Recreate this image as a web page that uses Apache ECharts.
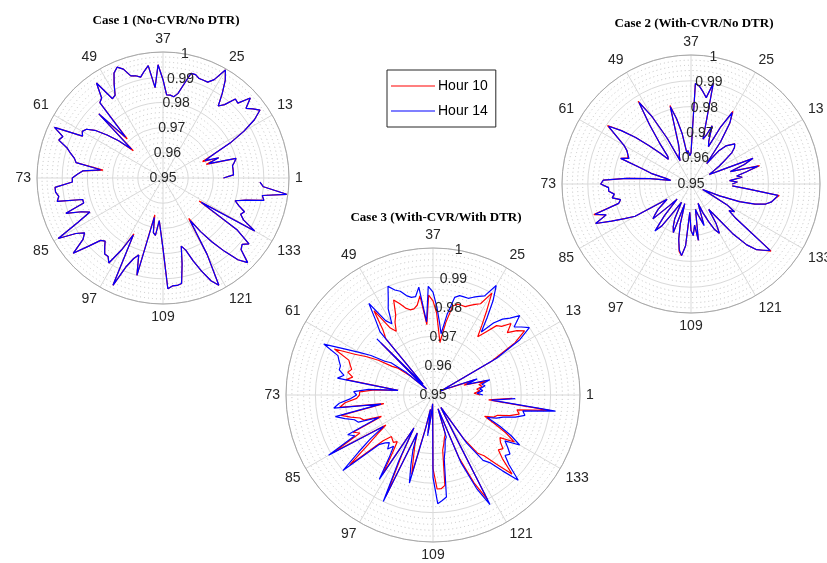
<!DOCTYPE html>
<html>
<head>
<meta charset="utf-8">
<script src="https://cdn.jsdelivr.net/npm/echarts@6/dist/echarts.min.js"></script>
<style>html,body{margin:0;padding:0;background:#fff}#c{width:827px;height:563px}</style>
</head>
<body>
<div id="c"></div>
<script>
const angleTickLabels = ['1','13','25','37','49','61','73','85','97','109','121','133'];
const radiusTickLabels = ['0.95','0.96','0.97','0.98','0.99','1'];
const seriesNames = ['Hour 10','Hour 14'];
const chartTitles = ['Case 1 (No-CVR/No DTR)','Case 2 (With-CVR/No DTR)','Case 3 (With-CVR/With DTR)'];

const case1Hour10 = [0.974,0.978,0.978,0.978,0.978,0.979,0.980,0.968,0.9735,0.967,
 0.972,0.980,0.987,0.993,0.997,0.995,0.993,0.997,0.992,0.9925,
 0.988,0.986,0.991,0.996,0.9995,0.994,0.992,0.992,0.992,0.993,
 0.993,0.988,0.984,0.9825,0.983,0.983,0.989,0.995,0.986,0.995,
 0.993,0.991,0.992,0.9925,0.996,0.9976,0.996,0.992,0.988,0.9873,
 0.996,0.990,0.989,0.971,0.986,0.966,0.973,0.978,0.983,0.986,
 0.987,0.986,0.9975,0.993,0.994,0.990,0.988,0.986,0.985,0.974,
 0.982,0.984,0.986,0.986,0.993,0.993,0.992,0.993,0.983,0.983,
 0.991,0.985,0.982,0.988,0.998,0.991,0.988,0.990,0.9965,0.990,
 0.985,0.984,0.986,0.988,0.988,0.990,0.983,0.975,0.997,0.988,
 0.984,0.982,0.990,0.965,0.972,0.973,0.967,0.967,0.978,0.994,
 0.993,0.993,0.9925,0.985,0.978,0.980,0.985,0.990,0.995,0.998,
 0.985,0.969,0.976,0.982,0.988,0.994,0.9975,0.992,0.991,0.993,
 0.986,0.967,0.992,0.986,0.984,0.985,0.982,0.980,0.984,0.991,
 0.990,0.9995,0.990,0.9885];
const case1Hour14 = [0.974,0.978,0.978,0.978,0.978,0.979,0.980,0.969,0.9735,0.968,
 0.972,0.980,0.987,0.993,0.997,0.995,0.993,0.997,0.992,0.9925,
 0.988,0.986,0.991,0.996,0.9995,0.994,0.992,0.992,0.992,0.993,
 0.993,0.988,0.984,0.9825,0.983,0.983,0.989,0.995,0.986,0.995,
 0.993,0.991,0.992,0.9925,0.996,0.9976,0.996,0.992,0.988,0.9873,
 0.996,0.990,0.989,0.972,0.986,0.967,0.973,0.978,0.983,0.986,
 0.987,0.986,0.9975,0.993,0.994,0.990,0.988,0.986,0.985,0.975,
 0.982,0.984,0.986,0.986,0.993,0.993,0.992,0.993,0.983,0.983,
 0.991,0.985,0.982,0.988,0.998,0.991,0.988,0.990,0.9965,0.990,
 0.985,0.984,0.986,0.988,0.988,0.990,0.983,0.9755,0.997,0.988,
 0.984,0.982,0.990,0.966,0.972,0.973,0.967,0.967,0.978,0.994,
 0.993,0.993,0.9925,0.985,0.978,0.980,0.985,0.990,0.995,0.998,
 0.985,0.970,0.976,0.982,0.988,0.994,0.9975,0.992,0.991,0.993,
 0.986,0.968,0.992,0.986,0.984,0.985,0.982,0.980,0.984,0.991,
 0.990,0.9995,0.990,0.9885];

const case2Hour10 = [0.966,0.968,0.965,0.970,0.968,0.972,0.9775,0.966,0.972,0.976,
 0.962,0.958,0.960,0.963,0.966,0.970,0.972,0.973,0.973,0.970,
 0.967,0.960,0.970,0.978,0.9825,0.975,0.966,0.968,0.974,0.970,
 0.968,0.990,0.984,0.986,0.988,0.989,0.962,0.961,0.963,0.962,
 0.970,0.976,0.9815,0.966,0.963,0.962,0.960,0.970,0.980,0.988,
 0.978,0.970,0.964,0.963,0.967,0.972,0.978,0.984,0.9895,0.984,
 0.980,0.978,0.977,0.9765,0.979,0.970,0.966,0.960,0.958,0.966,
 0.975,0.984,0.985,0.982,0.982,0.980,0.981,0.978,0.979,0.9895,
 0.985,0.990,0.984,0.979,0.975,0.961,0.963,0.966,0.968,0.970,
 0.962,0.958,0.966,0.9725,0.970,0.964,0.960,0.958,0.965,0.968,
 0.970,0.958,0.966,0.972,0.9765,0.978,0.974,0.961,0.968,0.970,
 0.966,0.972,0.960,0.962,0.964,0.9665,0.958,0.962,0.966,0.970,
 0.972,0.968,0.962,0.966,0.975,0.982,0.986,0.988,0.9905,0.972,
 0.968,0.970,0.966,0.958,0.955,0.962,0.970,0.976,0.980,0.982,
 0.983,0.9845,0.972,0.966];
const case2Hour14 = [0.966,0.968,0.965,0.970,0.968,0.972,0.977,0.966,0.972,0.976,
 0.962,0.958,0.960,0.963,0.966,0.970,0.972,0.973,0.973,0.970,
 0.967,0.960,0.970,0.978,0.982,0.975,0.966,0.968,0.974,0.970,
 0.968,0.990,0.984,0.986,0.988,0.989,0.962,0.961,0.963,0.962,
 0.970,0.976,0.981,0.966,0.963,0.962,0.960,0.970,0.980,0.9875,
 0.978,0.970,0.964,0.963,0.967,0.972,0.978,0.984,0.989,0.984,
 0.980,0.978,0.977,0.976,0.979,0.970,0.966,0.960,0.958,0.966,
 0.975,0.984,0.985,0.982,0.982,0.980,0.981,0.978,0.979,0.989,
 0.985,0.990,0.984,0.979,0.975,0.961,0.963,0.966,0.968,0.970,
 0.962,0.958,0.966,0.973,0.970,0.964,0.960,0.958,0.965,0.968,
 0.970,0.958,0.966,0.972,0.976,0.978,0.974,0.961,0.968,0.970,
 0.966,0.972,0.960,0.962,0.964,0.967,0.958,0.962,0.966,0.970,
 0.972,0.968,0.962,0.966,0.975,0.982,0.986,0.988,0.990,0.972,
 0.968,0.970,0.966,0.958,0.955,0.962,0.970,0.976,0.980,0.982,
 0.983,0.984,0.972,0.966];

const case3Hour10 = [0.966,0.964,0.966,0.965,0.967,0.966,0.969,0.961,0.965,0.957,
 0.955,0.953,0.973,0.983,0.988,0.986,0.983,0.986,0.983,0.982,
 0.978,0.975,0.979,0.984,0.990,0.985,0.984,0.983,0.982,0.982,
 0.982,0.981,0.975,0.968,0.972,0.978,0.982,0.984,0.974,0.984,
 0.981,0.980,0.980,0.981,0.983,0.985,0.980,0.978,0.975,0.977,
 0.985,0.978,0.975,0.955,0.975,0.953,0.960,0.965,0.967,0.972,
 0.976,0.980,0.987,0.981,0.980,0.979,0.980,0.978,0.980,0.962,
 0.970,0.975,0.975,0.976,0.980,0.982,0.967,0.982,0.979,0.976,
 0.975,0.969,0.980,0.978,0.989,0.969,0.973,0.978,0.987,0.973,
 0.970,0.970,0.971,0.970,0.974,0.982,0.963,0.973,0.988,0.964,
 0.968,0.972,0.978,0.961,0.955,0.963,0.957,0.953,0.975,0.982,
 0.982,0.981,0.969,0.967,0.965,0.964,0.955,0.973,0.983,0.990,
 0.958,0.955,0.968,0.975,0.977,0.982,0.988,0.982,0.979,0.980,
 0.978,0.977,0.982,0.978,0.973,0.969,0.972,0.973,0.977,0.980,
 0.979,0.990,0.969,0.977];
const case3Hour14 = [0.967,0.965,0.967,0.966,0.968,0.967,0.970,0.962,0.966,0.958,
 0.955,0.953,0.975,0.985,0.990,0.988,0.986,0.990,0.987,0.985,
 0.982,0.977,0.982,0.988,0.993,0.988,0.987,0.986,0.985,0.985,
 0.985,0.984,0.978,0.971,0.975,0.980,0.985,0.987,0.975,0.987,
 0.984,0.984,0.985,0.987,0.988,0.990,0.986,0.983,0.978,0.980,
 0.988,0.982,0.978,0.955,0.977,0.953,0.962,0.968,0.970,0.975,
 0.979,0.984,0.991,0.985,0.984,0.983,0.983,0.981,0.983,0.962,
 0.972,0.977,0.976,0.978,0.982,0.984,0.968,0.984,0.981,0.978,
 0.977,0.970,0.982,0.980,0.991,0.970,0.976,0.982,0.990,0.975,
 0.973,0.972,0.974,0.972,0.976,0.984,0.963,0.975,0.990,0.964,
 0.970,0.975,0.981,0.962,0.955,0.964,0.957,0.953,0.978,0.987,
 0.986,0.985,0.972,0.969,0.966,0.965,0.955,0.975,0.985,0.992,
 0.958,0.955,0.970,0.978,0.980,0.985,0.991,0.985,0.982,0.983,
 0.981,0.979,0.984,0.980,0.975,0.970,0.973,0.975,0.979,0.982,
 0.981,0.992,0.970,0.978];

const cases = [[case1Hour10, case1Hour14],[case2Hour10, case2Hour14],[case3Hour10, case3Hour14]];

const layout = [
  {center:[163,178], radius:126, title:[161,9]},
  {center:[691,184], radius:129, title:[689,12]},
  {center:[433,395], radius:147, title:[431,206]}
];
const colors = ['#ff0000','#0000ff'];
const labelColor = '#262626';
const font = '"Liberation Sans", Arial, Helvetica, sans-serif';

const option = {
  backgroundColor:'#fff',
  animation:false,
  title: chartTitles.map((t,i)=>({
    text:t, left:layout[i].title[0], top:layout[i].title[1], textAlign:'center',
    textStyle:{fontFamily:'"Liberation Serif","Times New Roman",serif', fontWeight:'bold', fontSize:13, color:'#000'}
  })),
  legend:{
    data:seriesNames.map(n=>({name:n, icon:'rect'})), orient:'vertical', left:387, top:70, width:109,
    backgroundColor:'#fff', borderColor:'#262626', borderWidth:1,
    padding:[8,8,8,4], itemGap:9, itemWidth:44, itemHeight:1,
    textStyle:{fontFamily:font, fontSize:14, color:'#000', lineHeight:16, padding:[0,0,0,-2]}
  },
  polar:[],
  angleAxis:[],
  radiusAxis:[],
  series:[]
};

layout.forEach((L,i)=>{
  option.polar.push({center:L.center, radius:L.radius});
  option.angleAxis.push({
    polarIndex:i, type:'value', min:0, max:144, interval:12, startAngle:0, clockwise:false,
    axisLine:{show:true, lineStyle:{color:'#a8a8a8', width:1}},
    axisTick:{show:false},
    axisLabel:{show:true, margin:6, color:labelColor, fontFamily:font, fontSize:14,
      formatter:(v)=> (v < 144 && angleTickLabels[Math.round(v/12)] !== undefined) ? angleTickLabels[Math.round(v/12)] : ''},
    splitLine:{show:true, lineStyle:{color:'#d9d9d9', width:1}}
  });
  option.radiusAxis.push({
    polarIndex:i, type:'value', min:0.95, max:1, interval:0.01,
    axisLine:{show:false}, axisTick:{show:false}, axisLabel:{show:false},
    splitLine:{show:true, lineStyle:{color:'#d9d9d9', width:1}},
    minorTick:{show:false, splitNumber:5},
    minorSplitLine:{show:true, lineStyle:{color:'#c4c4c4', width:1, type:[1,3]}}
  });
});
// overlay polars only for the radial tick labels, drawn along the 80 degree direction
layout.forEach((L,i)=>{
  const pi = 3+i;
  option.polar.push({center:L.center, radius:L.radius});
  option.angleAxis.push({
    polarIndex:pi, type:'value', min:0, max:360, startAngle:80, clockwise:false, show:false
  });
  option.radiusAxis.push({
    polarIndex:pi, type:'value', min:0.95, max:1, interval:0.01, z:5,
    axisLine:{show:false}, axisTick:{show:false}, splitLine:{show:false},
    axisLabel:{show:true, margin:0, align:'center', verticalAlign:'middle', color:labelColor, fontFamily:font, fontSize:14,
      formatter:(v)=> radiusTickLabels[Math.round((v-0.95)/0.01)]}
  });
});

cases.forEach((pair,i)=>{
  pair.forEach((vals,k)=>{
    option.series.push({
      type:'line', name:seriesNames[k], coordinateSystem:'polar', polarIndex:i,
      data: vals.map((v,j)=>[v, j]),
      symbol:'none', z:3+k,
      lineStyle:{color:colors[k], width:1.2},
      itemStyle:{color:colors[k]}
    });
  });
});

const chart = echarts.init(document.getElementById('c'), null, {renderer:'canvas'});
chart.setOption(option);
</script>
</body>
</html>
